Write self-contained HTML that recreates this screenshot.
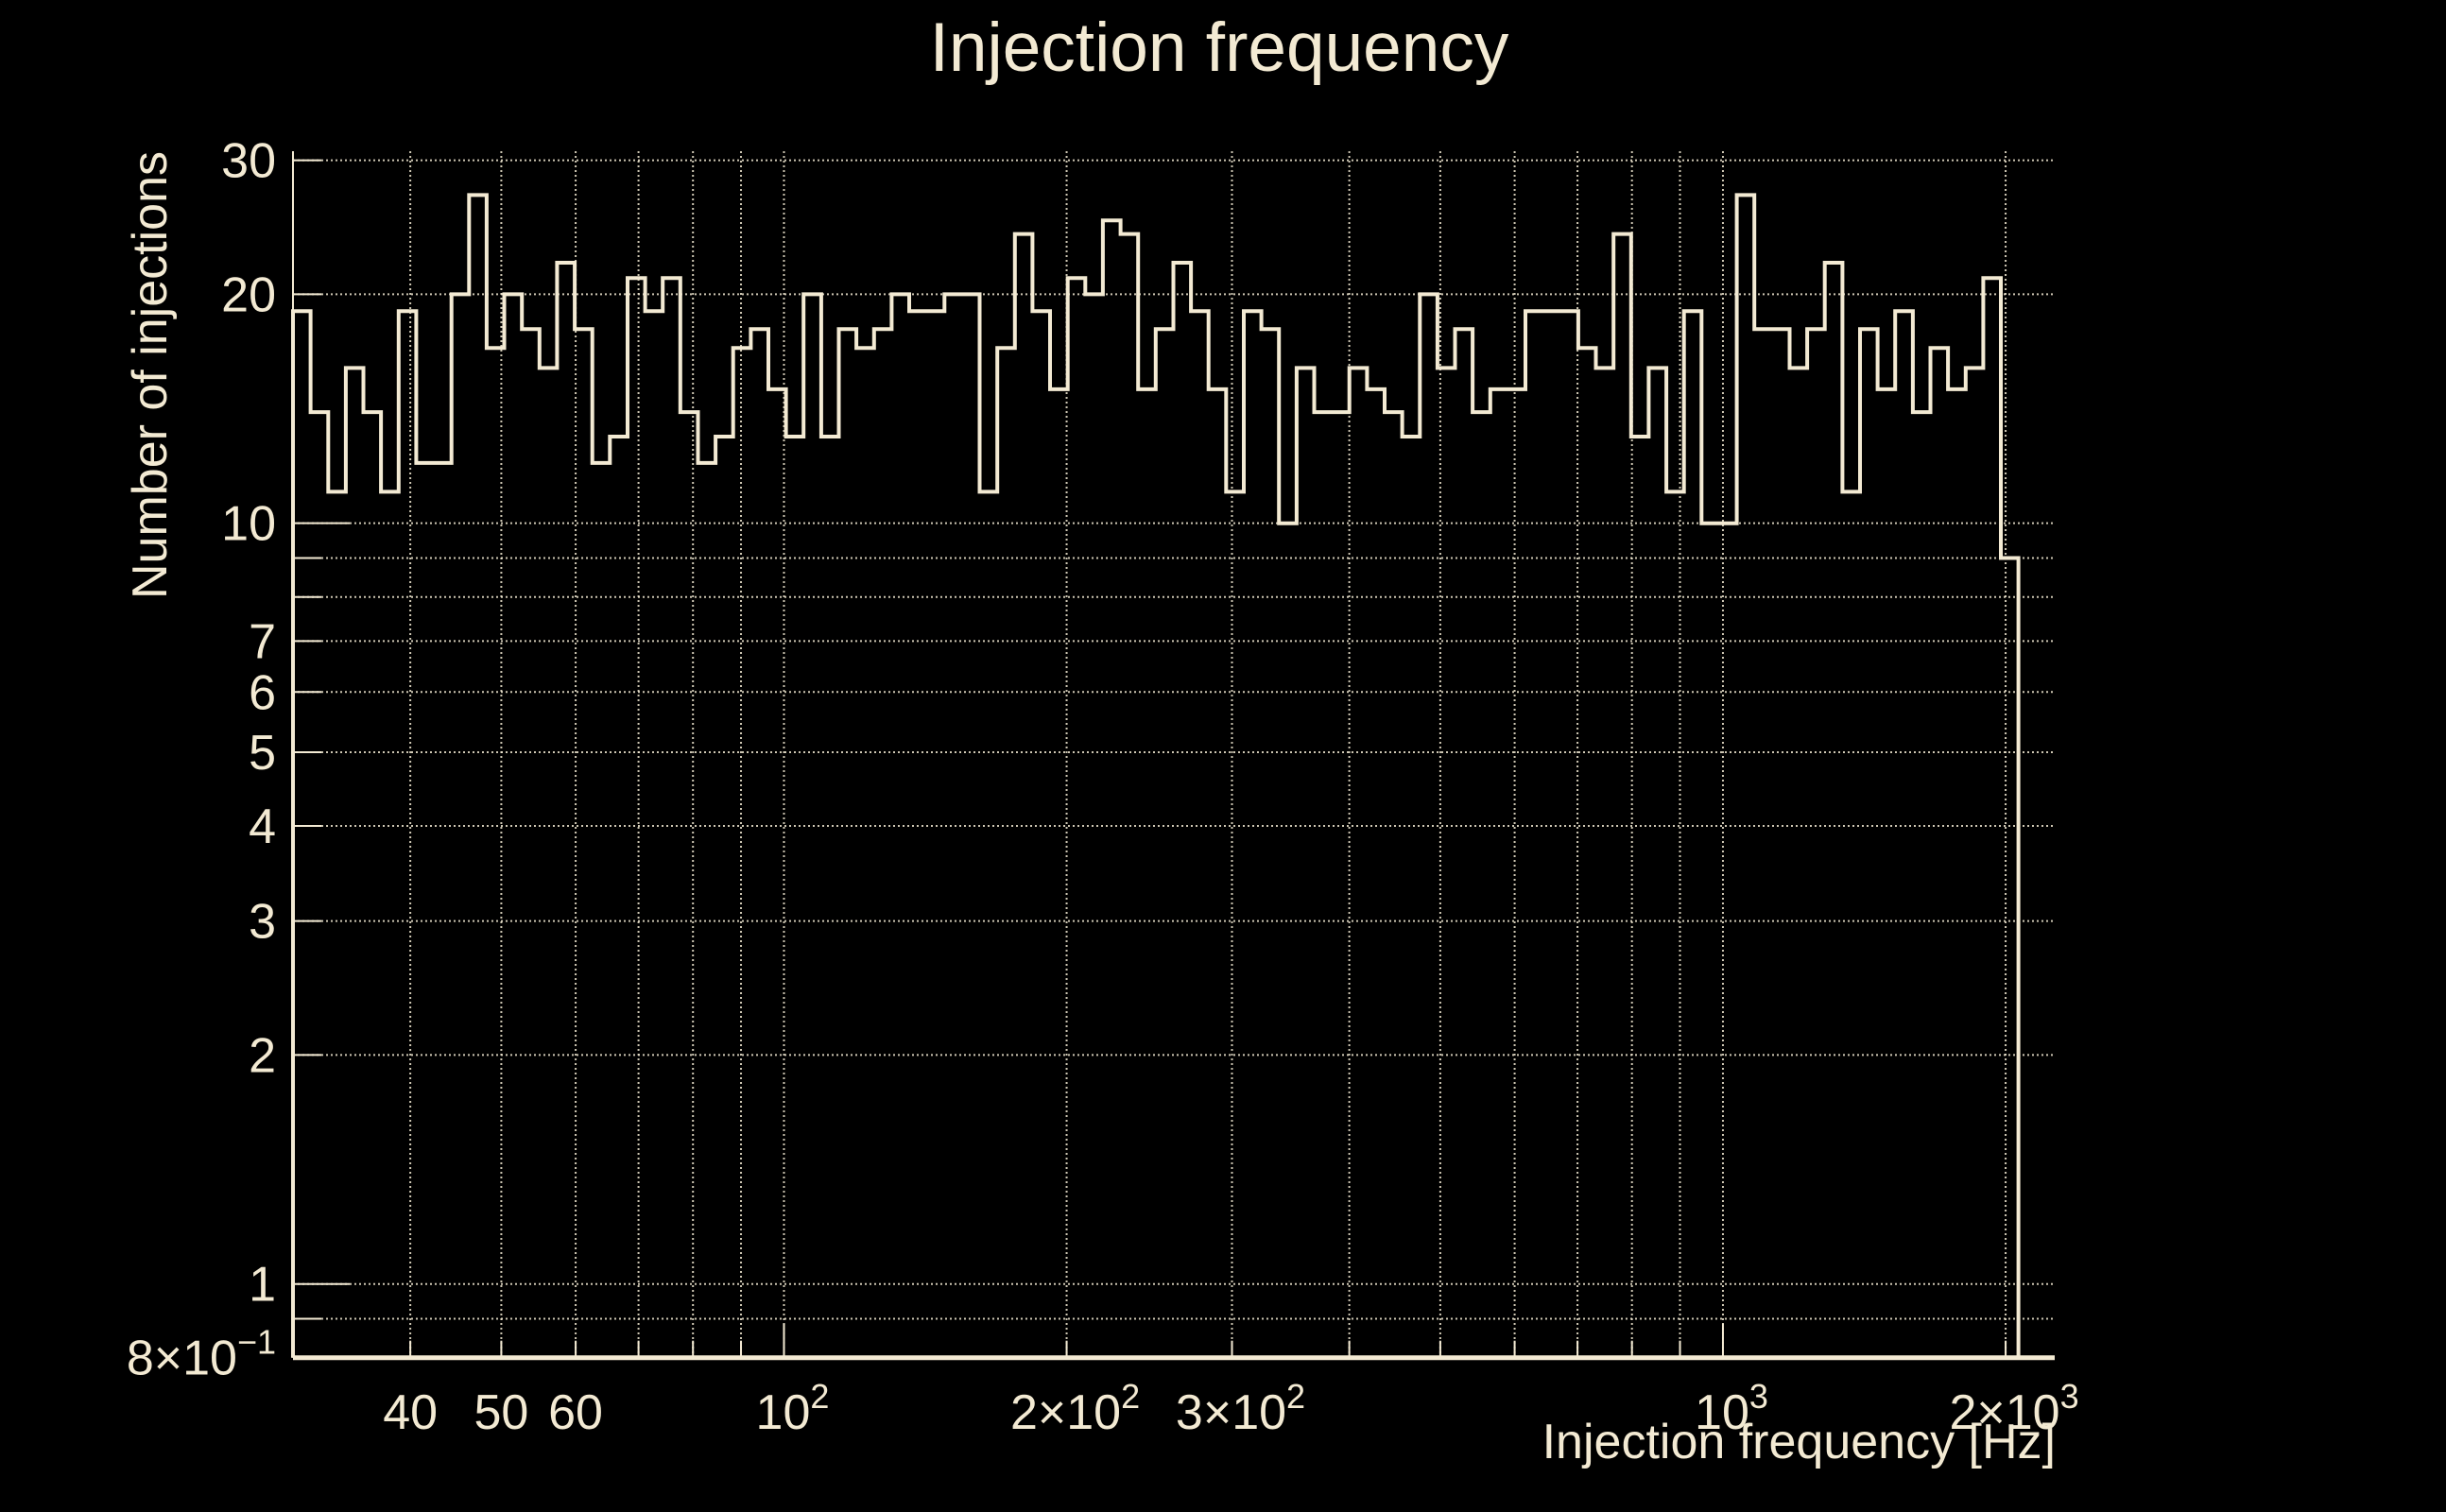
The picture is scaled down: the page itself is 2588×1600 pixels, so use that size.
<!DOCTYPE html>
<html><head><meta charset="utf-8"><style>
html,body{margin:0;padding:0;background:#000;}
svg{display:block;}
text{font-family:"Liberation Sans",sans-serif;fill:#f3ead3;}
</style></head><body>
<svg id="chart" width="2588" height="1600" viewBox="0 0 2588 1600" xmlns="http://www.w3.org/2000/svg">
<rect x="0" y="0" width="2588" height="1600" fill="#000"/>
<text x="1290" y="75" font-size="73" text-anchor="middle">Injection frequency</text>
<g id="grid"></g>
<g id="axes"></g>
<g id="series"></g>
<text x="2175" y="1543" font-size="52" text-anchor="end">Injection frequency [Hz]</text>
<text transform="translate(176,160) rotate(-90)" font-size="52" text-anchor="end">Number of injections</text>
</svg>
<script>
const counts = [19,14,11,16,14,11,19,12,12,20,
27,17,20,18,16,22,18,12,13,21,
19,21,14,12,13,17,18,15,13,20,
13,18,17,18,20,19,19,20,20,11,
17,24,19,15,21,20,25,24,15,18,
22,19,15,11,19,18,10,16,14,14,
16,15,14,13,20,16,18,14,15,15,
19,19,19,17,16,24,13,16,11,19,
10,10,27,18,18,16,18,22,11,18,
15,19,14,17,15,16,21,9];
const binLow = 30;
const binHigh = 2064;
const xGridValues = [40,50,60,70,80,90,100,200,300,400,500,600,700,800,900,1000,2000];
const xTickValues = [40,50,60,100,200,300,1000,2000];
const xTickLabels = [["40",""],["50",""],["60",""],["10","2"],["2\u00d710","2"],["3\u00d710","2"],["10","3"],["2\u00d710","3"]];
const yGridValues = [0.9,1,2,3,4,5,6,7,8,9,10,20,30];
const yTickValues = [0.8,1,2,3,4,5,6,7,10,20,30];
const yTickLabels = [["8\u00d710","\u22121"],["1",""],["2",""],["3",""],["4",""],["5",""],["6",""],["7",""],["10",""],["20",""],["30",""]];

const NS = "http://www.w3.org/2000/svg";
const X0 = 310, X1 = 2174, DEC_X = 993.5, XMIN = 30;
const YB = 1436.7, DEC_Y = 805, YMIN = 0.8, YTOP = 160;
const COL = "#f3ead3";
function xs(f){ return X0 + (Math.log10(f) - Math.log10(XMIN)) * DEC_X; }
function ys(v){ return YB - (Math.log10(v) - Math.log10(YMIN)) * DEC_Y; }
function mk(tag, attrs, parent){
  const el = document.createElementNS(NS, tag);
  for (const k in attrs) el.setAttribute(k, attrs[k]);
  parent.appendChild(el);
  return el;
}
const grid = document.getElementById("grid");
const axes = document.getElementById("axes");
const series = document.getElementById("series");

yGridValues.forEach(v => {
  const y = ys(v);
  const l = mk("line", {x1:X0, x2:X1, y1:y, y2:y, stroke:COL, "stroke-width":2, "stroke-dasharray":"2 3", opacity:0.85}, grid);
  
  
  const major = (v === 1 || v === 10);
  const t = mk("line", {x1:X0, x2:X0 + (major ? 60 : 30), y1:y, y2:y, stroke:COL, "stroke-width":2}, axes);
  
  
});
xGridValues.forEach(f => {
  const x = xs(f);
  const l = mk("line", {x1:x, x2:x, y1:YTOP, y2:YB, stroke:COL, "stroke-width":2, "stroke-dasharray":"2 3", opacity:0.85}, grid);
  
  
  const major = (f === 100 || f === 1000);
  const t = mk("line", {x1:x, x2:x, y1:YB, y2:YB - (major ? 36 : 18), stroke:COL, "stroke-width":2}, axes);
  
  
});
const yAxis = mk("line", {x1:X0, x2:X0, y1:YTOP, y2:YB, stroke:COL, "stroke-width":2}, axes);


const xAxis = mk("line", {x1:X0, x2:X1, y1:YB, y2:YB, stroke:COL, "stroke-width":5}, axes);



function label(x, y, parts, anchor, name){
  const t = mk("text", {x:x, y:y, "font-size":52, "text-anchor":anchor}, axes);
  
  
  const a = document.createElementNS(NS, "tspan");
  a.textContent = parts[0];
  t.appendChild(a);
  if (parts[1]) {
    const b = document.createElementNS(NS, "tspan");
    b.setAttribute("dy", "-22");
    b.setAttribute("font-size", "36");
    b.textContent = parts[1];
    t.appendChild(b);
  }
  return t;
}
yTickValues.forEach((v, i) => {
  label(292, ys(v) + 18, yTickLabels[i], "end", "y-tick-label");
});
xTickValues.forEach((f, i) => {
  const hasSup = !!xTickLabels[i][1];
  label(xs(f) + (hasSup ? 9 : 0), 1512, xTickLabels[i], "middle", "x-tick-label");
});

const n = counts.length;
const lw = Math.log10(binLow), hw = Math.log10(binHigh);
function edge(i){ return Math.pow(10, lw + (hw - lw) * i / n); }
let d = "M" + xs(edge(0)).toFixed(1) + "," + YB;
for (let i = 0; i < n; i++) {
  const y = ys(counts[i]).toFixed(1);
  d += " L" + xs(edge(i)).toFixed(1) + "," + y + " L" + xs(edge(i + 1)).toFixed(1) + "," + y;
}
d += " L" + xs(edge(n)).toFixed(1) + "," + YB;
const p = mk("path", {d:d, fill:"none", stroke:COL, "stroke-width":4, "stroke-linejoin":"miter"}, series);


</script>
</body></html>
